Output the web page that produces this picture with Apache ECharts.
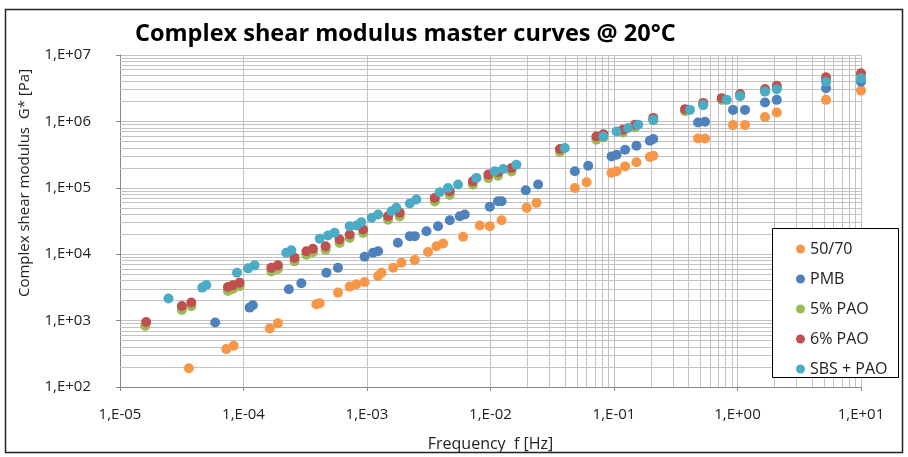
<!DOCTYPE html>
<html>
<head>
<meta charset="utf-8">
<script src="https://cdn.jsdelivr.net/npm/echarts@6/dist/echarts.min.js"></script>
<style>
html,body{margin:0;padding:0;background:#fff;}
#chart{width:908px;height:457px;}
</style>
</head>
<body>
<div id="chart"></div>
<script>
const seriesNames = ['50/70', 'PMB', '5% PAO', '6% PAO', 'SBS + PAO'];
const seriesColors = ['#F79646', '#4F81BD', '#9BBB59', '#C0504D', '#4BACC6'];

const f5070 = [3.61e-5,7.26e-5,8.32e-5,1.63e-4,1.90e-4,3.89e-4,4.14e-4,5.82e-4,7.24e-4,8.2e-4,9.57e-4,1.23e-3,1.31e-3,1.63e-3,1.90e-3,2.44e-3,3.12e-3,3.65e-3,4.13e-3,6.0e-3,8.18e-3,9.86e-3,1.23e-2,1.96e-2,2.36e-2,4.82e-2,6.0e-2,9.55e-2,0.105,0.123,0.152,0.195,0.208,0.479,0.545,0.92,1.15,1.67,2.08,5.21,10];
const g5070 = [191,372,417,760,914,1760,1820,2640,3250,3520,3810,4690,5270,6270,7450,8150,10800,13200,14500,18300,27000,26400,32500,49900,59300,99600,121000,168000,177000,210000,242000,291000,304000,553000,553000,879000,879000,1.16e6,1.36e6,2.11e6,2.91e6];

const fPMB = [5.9e-5,1.12e-4,1.19e-4,2.33e-4,2.94e-4,4.69e-4,5.82e-4,9.57e-4,1.12e-3,1.23e-3,1.78e-3,2.22e-3,2.44e-3,3.03e-3,3.76e-3,4.68e-3,5.64e-3,6.19e-3,9.86e-3,1.15e-2,1.23e-2,1.93e-2,2.43e-2,4.82e-2,6.18e-2,9.55e-2,0.105,0.123,0.152,0.195,0.208,0.479,0.545,0.92,1.15,1.67,2.08,5.21,10];
const gPMB = [935,1570,1700,2960,3650,5270,6270,9170,10500,11100,14900,18700,18700,22200,26400,32500,37300,39600,51700,62700,62700,91600,112000,177000,215000,297000,315000,375000,430000,512000,542000,962000,986000,1.49e6,1.49e6,1.92e6,2.11e6,3.16e6,3.97e6];

const f5PAO = [1.6e-5,3.17e-5,3.78e-5,7.48e-5,8.2e-5,9.3e-5,1.68e-4,1.90e-4,2.59e-4,3.23e-4,3.65e-4,4.62e-4,6.0e-4,7.24e-4,9.3e-4,1.48e-3,1.84e-3,3.54e-3,4.68e-3,7.2e-3,9.6e-3,1.15e-2,1.48e-2,3.65e-2,7.2e-2,8.2e-2,0.118,0.148,0.208,0.376,0.528,0.745,1.05,1.67,2.08,5.21,10];
const g5PAO = [830,1450,1650,2800,3000,3300,5500,6000,7800,9800,10700,11700,14800,17500,20800,33000,37000,62000,78000,111000,140000,152000,176000,345000,530000,575000,680000,810000,1.03e6,1.42e6,1.75e6,2.1e6,2.4e6,2.85e6,3.2e6,4.3e6,5.0e6];

const f6PAO = [1.63e-5,3.17e-5,3.78e-5,7.48e-5,8.2e-5,9.3e-5,1.68e-4,1.90e-4,2.59e-4,3.23e-4,3.65e-4,4.62e-4,6.0e-4,7.24e-4,9.3e-4,1.48e-3,1.84e-3,3.54e-3,4.68e-3,7.2e-3,9.6e-3,1.15e-2,1.48e-2,3.65e-2,7.2e-2,8.2e-2,0.118,0.148,0.208,0.376,0.528,0.745,1.05,1.67,2.08,5.21,10];
const g6PAO = [955,1660,1870,3210,3400,3730,6270,6790,8850,11100,12100,13200,16700,19800,23500,37300,42000,70500,88500,125000,158000,171000,199000,384000,593000,640000,748000,889000,1.13e6,1.53e6,1.90e6,2.24e6,2.59e6,3.08e6,3.43e6,4.62e6,5.31e6];

const fSBS = [2.47e-5,4.63e-5,5.0e-5,8.85e-5,1.09e-4,1.23e-4,2.22e-4,2.44e-4,4.14e-4,4.83e-4,5.47e-4,7.24e-4,8.2e-4,9.0e-4,1.09e-3,1.23e-3,1.58e-3,1.73e-3,2.22e-3,2.51e-3,3.88e-3,4.53e-3,5.46e-3,7.7e-3,1.08e-2,1.27e-2,1.62e-2,4.0e-2,8.2e-2,0.105,0.130,0.157,0.208,0.412,0.528,0.817,1.05,1.67,2.08,5.21,10];
const gSBS = [2150,3140,3440,5270,6120,6790,10500,11500,17100,19100,21000,26400,27000,30300,35300,39600,44400,49900,58000,66500,85500,99600,112000,141000,177000,192000,223000,397000,593000,705000,793000,889000,1.06e6,1.49e6,1.77e6,2.11e6,2.42e6,2.81e6,3.05e6,3.97e6,4.47e6];

const xTickLabels = {'-5':'1,E-05','-4':'1,E-04','-3':'1,E-03','-2':'1,E-02','-1':'1,E-01','0':'1,E+00','1':'1,E+01'};
const yTickLabels = {'2':'1,E+02','3':'1,E+03','4':'1,E+04','5':'1,E+05','6':'1,E+06','7':'1,E+07'};

const allF = [f5070, fPMB, f5PAO, f6PAO, fSBS];
const allG = [g5070, gPMB, g5PAO, g6PAO, gSBS];

const FONT = '"Open Sans", "Noto Sans", sans-serif';
const GRID = '#c3c3c3';

// minor grid positions (2..9 in each decade)
const minorLines = [];
for (let d = -5; d < 1; d++) for (let k = 2; k <= 9; k++) minorLines.push({xAxis: +(k * Math.pow(10, d)).toPrecision(6)});
for (let d = 2; d < 7; d++) for (let k = 2; k <= 9; k++) minorLines.push({yAxis: +(k * Math.pow(10, d)).toPrecision(6)});

const series = [{
  name: '_grid', type: 'scatter', data: [], z: 1, silent: true,
  markLine: {
    silent: true, symbol: 'none', animation: false, z: 1,
    label: {show: false},
    lineStyle: {color: GRID, type: 'solid', width: 1},
    emphasis: {disabled: true},
    data: minorLines
  }
}];
seriesNames.forEach((n, i) => {
  series.push({
    name: n, type: 'scatter', z: 10 + i,
    symbol: 'circle', symbolSize: 10,
    itemStyle: {color: seriesColors[i], opacity: 1},
    data: allF[i].map((f, j) => [f, allG[i][j]])
  });
});

const chart = echarts.init(document.getElementById('chart'), null, {renderer: 'canvas'});
chart.setOption({
  animation: false,
  backgroundColor: '#fff',
  grid: {left: 120, right: 47, top: 55, bottom: 69, containLabel: false},
  xAxis: {
    type: 'log', logBase: 10, min: 1e-5, max: 10,
    name: 'Frequency  f [Hz]', nameLocation: 'middle', nameGap: 49,
    nameTextStyle: {fontFamily: FONT, fontSize: 16, color: '#222'},
    axisLine: {show: true, lineStyle: {color: '#888'}},
    axisTick: {show: true, length: 4, lineStyle: {color: '#888'}},
    axisLabel: {margin: 20, fontFamily: FONT, fontSize: 15, color: '#222',
      formatter: v => xTickLabels[String(Math.round(Math.log10(v)))] || ''},
    splitLine: {show: true, lineStyle: {color: GRID, width: 1}}
  },
  yAxis: {
    type: 'log', logBase: 10, min: 100, max: 1e7,
    axisLine: {show: true, lineStyle: {color: '#888'}},
    axisTick: {show: true, length: 4, lineStyle: {color: '#888'}},
    axisLabel: {margin: 29, fontFamily: FONT, fontSize: 15, color: '#222',
      formatter: v => yTickLabels[String(Math.round(Math.log10(v)))] || ''},
    splitLine: {show: true, lineStyle: {color: GRID, width: 1}}
  },
  legend: {
    data: seriesNames, z: 100,
    orient: 'vertical', left: 791, top: 235,
    itemWidth: 9, itemHeight: 9, itemGap: 12, icon: 'circle',
    textStyle: {fontFamily: FONT, fontSize: 16, color: '#222', lineHeight: 18},
    selectedMode: false
  },
  graphic: [
    {type: 'rect', z: 0, silent: true, shape: {x: 5.5, y: 9.5, width: 897, height: 443},
      style: {fill: 'none', stroke: '#222', lineWidth: 1.5}},
    {type: 'rect', z: 50, silent: true, shape: {x: 772.5, y: 228.5, width: 126, height: 149},
      style: {fill: '#fff', stroke: '#000', lineWidth: 1}},
    {type: 'text', z: 60, silent: true, x: 135, y: 34,
      style: {text: 'Complex shear modulus master curves @ 20°C', fontFamily: FONT, fontWeight: 'bold', fontSize: 23.5, fill: '#000', verticalAlign: 'middle'}},
    {type: 'text', z: 60, silent: true, x: 25, y: 183, rotation: Math.PI / 2,
      style: {text: 'Complex shear modulus  G* [Pa]', fontFamily: FONT, fontSize: 15, fill: '#222', align: 'center', verticalAlign: 'middle'}}
  ],
  series: series
});
</script>
</body>
</html>
